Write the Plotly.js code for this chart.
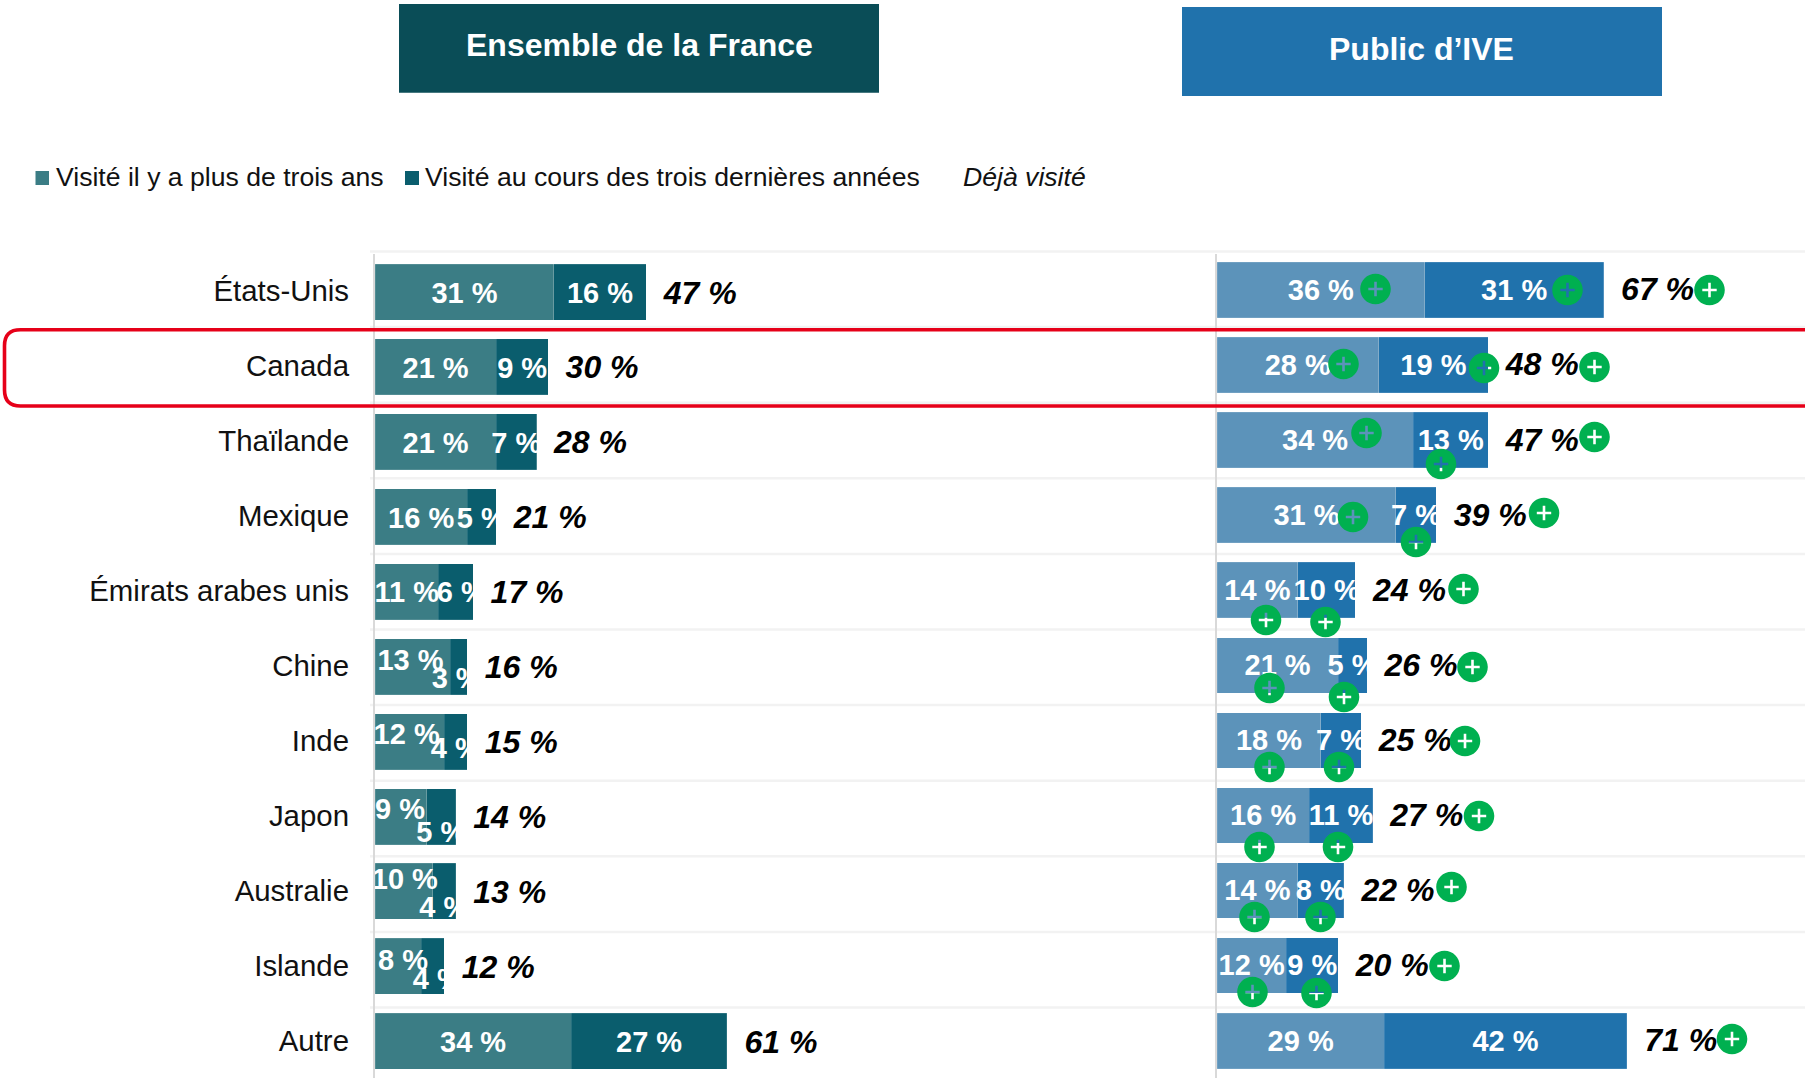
<!DOCTYPE html>
<html lang="fr">
<head>
<meta charset="utf-8">
<title>Pays visités</title>
<script src="https://cdn.plot.ly/plotly-3.0.1.min.js"></script>
<style>html,body{margin:0;padding:0;background:#fff}#chart{width:1805px;height:1078px}</style>
</head>
<body>
<div id="chart"></div>
<script>
// ---------- data ----------
const countries = ["États-Unis","Canada","Thaïlande","Mexique","Émirats arabes unis","Chine","Inde","Japon","Australie","Islande","Autre"];
const franceOlder  = [31,21,21,16,11,13,12,9,10,8,34];
const franceRecent = [16,9,7,5,6,3,4,5,4,4,27];
const franceTotal  = [47,30,28,21,17,16,15,14,13,12,61];
const iveOlder  = [36,28,34,31,14,21,18,16,14,12,29];
const iveRecent = [31,19,13,7,10,5,7,11,8,9,42];
const iveTotal  = [67,48,47,39,24,26,25,27,22,20,71];
const seriesOlder = "Visité il y a plus de trois ans";
const seriesRecent = "Visité au cours des trois dernières années";
const seriesTotal = "Déjà visité";
const titleFrance = "Ensemble de la France";
const titleIve = "Public d’IVE";

// ---------- label nudges (pixels), as placed by hand in the original ----------
const frOlderDx  = [0,0,0,0,0,-2,-3,-1,1,5,0];
const frOlderDy  = [0,0,0,0,0,-7,-8,-8,-13,-7,0];
const frRecentDx = [0,0,0,0,6,-2,0,0,0,5,0];
const frRecentDy = [0,0,0,0,0,11,6,15,15,12,0];
const textLiftL = 3.5, textLiftR = 2.5;

// ---------- plus-badge centres (pixels in the page) ----------
const badgeOlder  = [[1375.5,289],[1343.5,364],[1366.5,433],[1353,517],[1266,620],[1269.5,688],[1269.5,767],[1259.5,847],[1254.5,917],[1252.5,992]];
const badgeRecent = [[1567.5,290],[1484,368],[1441,464],[1416,542],[1325.5,622],[1344,697],[1339,767],[1338,847],[1320.5,917],[1316.5,993]];
const badgeTotal  = [[1709.5,290],[1594.5,367],[1594.5,437],[1544,513],[1463.5,589],[1472.5,667],[1465,741],[1479,816],[1451.5,887],[1444.5,966],[1732,1039]];

// ---------- geometry ----------
const W = 1805, H = 1078;
const pxPerUnit = 5.77;
const axL = 375, axR = 1217;
const rowL = {c0: 292, step: 74.93, bar: 56};
const rowR = {c0: 289.8, step: 75.1, bar: 55.5};
const tickNudge = -1 / rowL.step;
const px = v => v / W, py = v => 1 - v / H;
const rows = countries.map((_, i) => i);
const pct = v => v + "\u00a0%";

const colors = {frOlder:"#3B7D85", frRecent:"#0A5D6D", ivOlder:"#5C93BA", ivRecent:"#2072AC",
                frHead:"#0A4D57", ivHead:"#2072AC", green:"#00B050", red:"#E60019", grid:"#F2F2F2", axis:"#D9D9D9", ink:"#111"};
const family = '"Liberation Sans", Arial, sans-serif';
const labelFont = {family, size:29, color:"#fff", weight:700};
const totalFont = {family, size:32, color:"#000", weight:700, style:"italic"};

function bar(name, vals, color, xa, ya, row) {
  return {type:"bar", orientation:"h", name, x:vals, y:rows, xaxis:xa, yaxis:ya,
          width: row.bar/row.step, marker:{color, line:{width:0.5, color:"rgba(255,255,255,0.25)"}}, hoverinfo:"skip", showlegend:false};
}
function texts(x, y, text, font, pos, xa, ya) {
  return {type:"scatter", mode:"text", x, y, text, textfont:font, textposition:pos, xaxis:xa, yaxis:ya,
          cliponaxis:false, hoverinfo:"skip", showlegend:false};
}
const liftL = i => i + textLiftL/rowL.step, liftR = i => i + textLiftR/rowR.step;
const traces = [
  bar(seriesOlder, franceOlder, colors.frOlder, "x", "y", rowL),
  bar(seriesRecent, franceRecent, colors.frRecent, "x", "y", rowL),
  bar(seriesOlder, iveOlder, colors.ivOlder, "x2", "y2", rowR),
  bar(seriesRecent, iveRecent, colors.ivRecent, "x2", "y2", rowR),
  texts(franceOlder.map((v,i)=>v/2+frOlderDx[i]/pxPerUnit), rows.map(i=>liftL(i)+frOlderDy[i]/rowL.step), franceOlder.map(pct), labelFont, "middle center", "x", "y"),
  texts(franceRecent.map((v,i)=>franceOlder[i]+v/2+frRecentDx[i]/pxPerUnit), rows.map(i=>liftL(i)+frRecentDy[i]/rowL.step), franceRecent.map(pct), labelFont, "middle center", "x", "y"),
  texts(iveOlder.map(v=>v/2), rows.map(liftR), iveOlder.map(pct), labelFont, "middle center", "x2", "y2"),
  texts(iveRecent.map((v,i)=>iveOlder[i]+v/2), rows.map(liftR), iveRecent.map(pct), labelFont, "middle center", "x2", "y2"),
  texts(franceOlder.map((v,i)=>v+franceRecent[i]+17.5/pxPerUnit), rows.map(liftL), franceTotal.map(pct), totalFont, "middle right", "x", "y"),
  texts(iveOlder.map((v,i)=>v+iveRecent[i]+17.5/pxPerUnit), rows.map(liftR), iveTotal.map(pct), totalFont, "middle right", "x2", "y2")
];

// ---------- shapes ----------
const shapes = [];
// row separators
for (let k = 0; k <= 10; k++) {
  const y = 251.5 + 75.6 * k;
  shapes.push({type:"line", layer:"below", xref:"paper", yref:"paper", x0:px(370), x1:1, y0:py(y), y1:py(y), line:{color:colors.grid, width:2.5}});
}
// label overflow is cut off at the bar ends, as in the original
rows.forEach(i => {
  shapes.push({type:"rect", layer:"above", xref:"x", yref:"y", xsizemode:"pixel", xanchor:franceOlder[i]+franceRecent[i], x0:0.3, x1:13, y0:i-0.42, y1:i+0.42, fillcolor:"#fff", line:{width:0}});
  shapes.push({type:"rect", layer:"above", xref:"x", yref:"y", xsizemode:"pixel", xanchor:0, x0:-24, x1:0, y0:i-0.42, y1:i+0.42, fillcolor:"#fff", line:{width:0}});
  shapes.push({type:"rect", layer:"above", xref:"x2", yref:"y2", xsizemode:"pixel", xanchor:iveOlder[i]+iveRecent[i], x0:0.3, x1:13, y0:i-0.42, y1:i+0.42, fillcolor:"#fff", line:{width:0}});
});
// vertical axes
[374, 1216].forEach(x => shapes.push({type:"line", layer:"above", xref:"paper", yref:"paper", x0:px(x), x1:px(x), y0:py(254), y1:0, line:{color:colors.axis, width:2}}));
// header boxes
shapes.push({type:"rect", layer:"below", xref:"paper", yref:"paper", x0:px(399), x1:px(879), y0:py(4), y1:py(92.7), fillcolor:colors.frHead, line:{width:0}});
shapes.push({type:"rect", layer:"below", xref:"paper", yref:"paper", x0:px(1182), x1:px(1662), y0:py(7), y1:py(96), fillcolor:colors.ivHead, line:{width:0}});
// legend swatches
shapes.push({type:"rect", layer:"below", xref:"paper", yref:"paper", x0:px(35.5), x1:px(49), y0:py(171), y1:py(185), fillcolor:colors.frOlder, line:{width:0}});
shapes.push({type:"rect", layer:"below", xref:"paper", yref:"paper", x0:px(405), x1:px(419), y0:py(171), y1:py(185), fillcolor:colors.frRecent, line:{width:0}});
// highlight round Canada
(function(){
  const l=4.5, t=329.7, b=406, r=16, e=1830;
  shapes.push({type:"path", layer:"above", xref:"paper", yref:"paper",
    path:`M${px(e)},${py(t)} L${px(l+r)},${py(t)} Q${px(l)},${py(t)} ${px(l)},${py(t+r)} L${px(l)},${py(b-r)} Q${px(l)},${py(b)} ${px(l+r)},${py(b)} L${px(e)},${py(b)}`,
    line:{color:colors.red, width:3.6}, fillcolor:"rgba(0,0,0,0)"});
})();
// green plus badges: the plus is a hole through the disc
function badgePath() {
  const R=15.3, k=0.5523*R, a=7.2, w=1.3;
  return `M${-R},0 C${-R},${k} ${-k},${R} 0,${R} C${k},${R} ${R},${k} ${R},0 C${R},${-k} ${k},${-R} 0,${-R} C${-k},${-R} ${-R},${-k} ${-R},0 Z `+
         `M${-w},${-a} L${w},${-a} L${w},${-w} L${a},${-w} L${a},${w} L${w},${w} L${w},${a} L${-w},${a} L${-w},${w} L${-a},${w} L${-a},${-w} L${-w},${-w} Z`;
}
[...badgeOlder, ...badgeRecent, ...badgeTotal].forEach(([cx, cy]) => {
  shapes.push({type:"path", layer:"above", xref:"paper", yref:"paper", xsizemode:"pixel", ysizemode:"pixel",
    xanchor:px(cx), yanchor:py(cy), path:badgePath(), fillcolor:colors.green, fillrule:"evenodd", line:{width:0}});
});

// ---------- annotations ----------
const note = (text, x, y, xanchor, font) => ({text, xref:"paper", yref:"paper", x:px(x), y:py(y), xanchor, yanchor:"middle", showarrow:false, font, borderpad:0});
const legendFont = {family, size:26.6, color:colors.ink};
const annotations = [
  note(titleFrance, 639, 45, "center", {family, size:32, color:"#fff", weight:700}),
  note(titleIve, 1421.5, 49, "center", {family, size:32, color:"#fff", weight:700}),
  note(seriesOlder, 54.5, 177, "left", legendFont),
  note(seriesRecent, 424, 177, "left", legendFont),
  note(seriesTotal, 962, 177, "left", {family, size:26.6, color:colors.ink, style:"italic"})
];

const layout = {
  width:W, height:H, margin:{l:0,r:0,t:0,b:0,pad:0}, paper_bgcolor:"#fff", plot_bgcolor:"rgba(0,0,0,0)",
  barmode:"stack", bargap:0, showlegend:false, hovermode:false,
  xaxis:{domain:[px(axL), px(axR)], range:[0,(axR-axL)/pxPerUnit], visible:false, anchor:"y"},
  xaxis2:{domain:[px(axR), 1], range:[0,(W-axR)/pxPerUnit], visible:false, anchor:"y2"},
  yaxis:{domain:[0,1], range:[(H-rowL.c0)/rowL.step, -rowL.c0/rowL.step], anchor:"x", tickmode:"array", tickvals:rows.map(i=>i+tickNudge), ticktext:countries,
         tickfont:{family, size:29.4, color:colors.ink}, ticklen:0, ticklabelstandoff:25, showgrid:false, zeroline:false, showline:false},
  yaxis2:{domain:[0,1], range:[(H-rowR.c0)/rowR.step, -rowR.c0/rowR.step], anchor:"x2", showticklabels:false, ticklen:0, showgrid:false, zeroline:false, showline:false},
  shapes, annotations
};
Plotly.newPlot("chart", traces, layout, {displayModeBar:false, staticPlot:true});
</script>
</body>
</html>
